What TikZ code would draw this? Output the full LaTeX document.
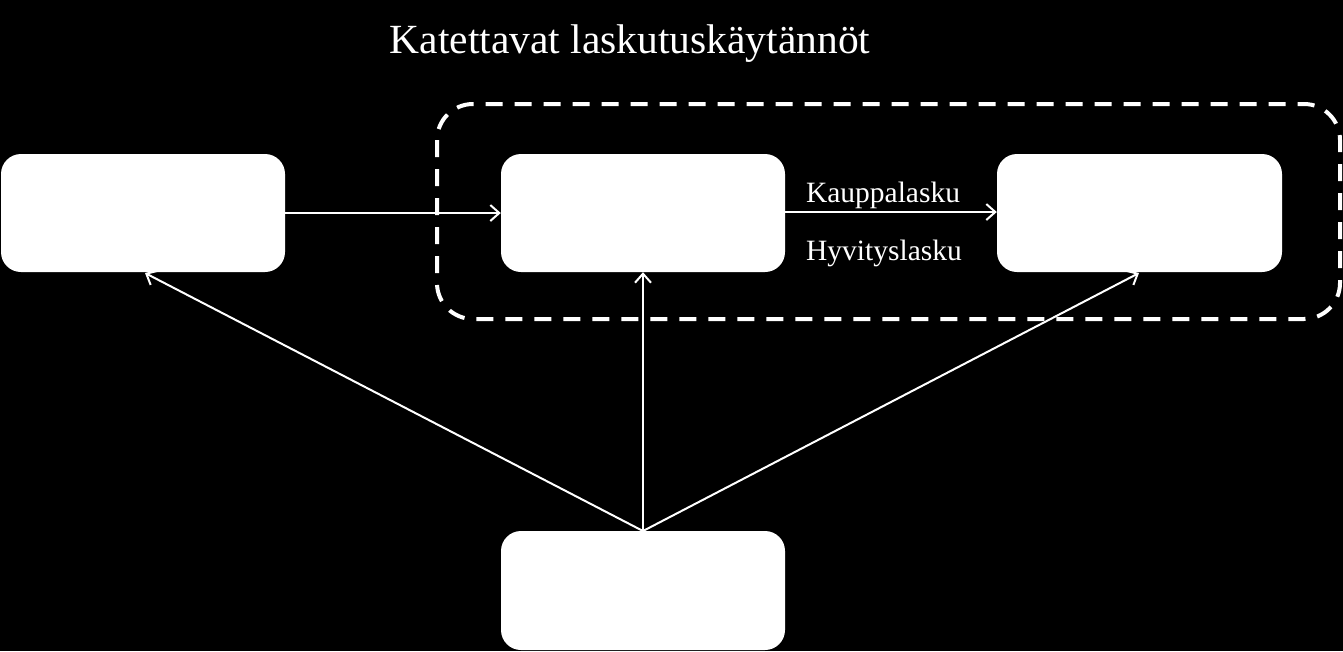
\documentclass[tikz,border=0pt]{standalone}
\usepackage{fontspec}
\setmainfont{Liberation Serif}
\usetikzlibrary{arrows.meta}
\begin{document}
\begin{tikzpicture}[x=1pt,y=-1pt,
  box/.style={fill=white,draw=none,rounded corners=20pt},
  conn/.style={draw=white,line width=2pt,-{Straight Barb[length=9pt,width=16pt,line width=2pt]}},
  lbl/.style={text=white,font=\fontsize{29.5}{34}\selectfont,inner sep=0pt}]
\fill[black] (0,0) rectangle (1343,651);
\useasboundingbox (0,0) rectangle (1343,651);
\draw[white,line width=4pt,dash pattern=on 17pt off 12pt,rounded corners=36pt] (437,104) rectangle (1340,319);
\path[box] (1,154) rectangle (285,272);
\path[box] (501,154) rectangle (785,272);
\path[box] (997,154) rectangle (1282,272);
\path[box] (501,531) rectangle (785,650);
\node (A) [inner sep=0pt,minimum width=284pt,minimum height=118pt] at (143,213) {};
\node (B) [inner sep=0pt,minimum width=284pt,minimum height=118pt] at (643,213) {};
\node (C) [inner sep=0pt,minimum width=285pt,minimum height=118pt] at (1139.5,213) {};
\node (D) [inner sep=0pt,minimum width=284pt,minimum height=119pt] at (643,590.5) {};
\coordinate (Dt) at (643,531);
\node (title) [text=white,font=\fontsize{41.5}{48}\selectfont,inner sep=0pt,anchor=base] at (630,53) {Katettavat laskutuskäytännöt};
\node (k) [lbl,anchor=base] at (883,202) {Kauppalasku};
\node (h) [lbl,anchor=base] at (884,260) {Hyvityslasku};
\draw[conn] (A.east |- 0,213) -- (B.west |- 0,213);
\draw[conn] (B.east |- 0,212) -- (C.west |- 0,212);
\draw[conn] (Dt) -- (145,273);
\draw[conn] (Dt) -- (B.south);
\draw[conn] (Dt) -- (1139,273);
\end{tikzpicture}
\end{document}
